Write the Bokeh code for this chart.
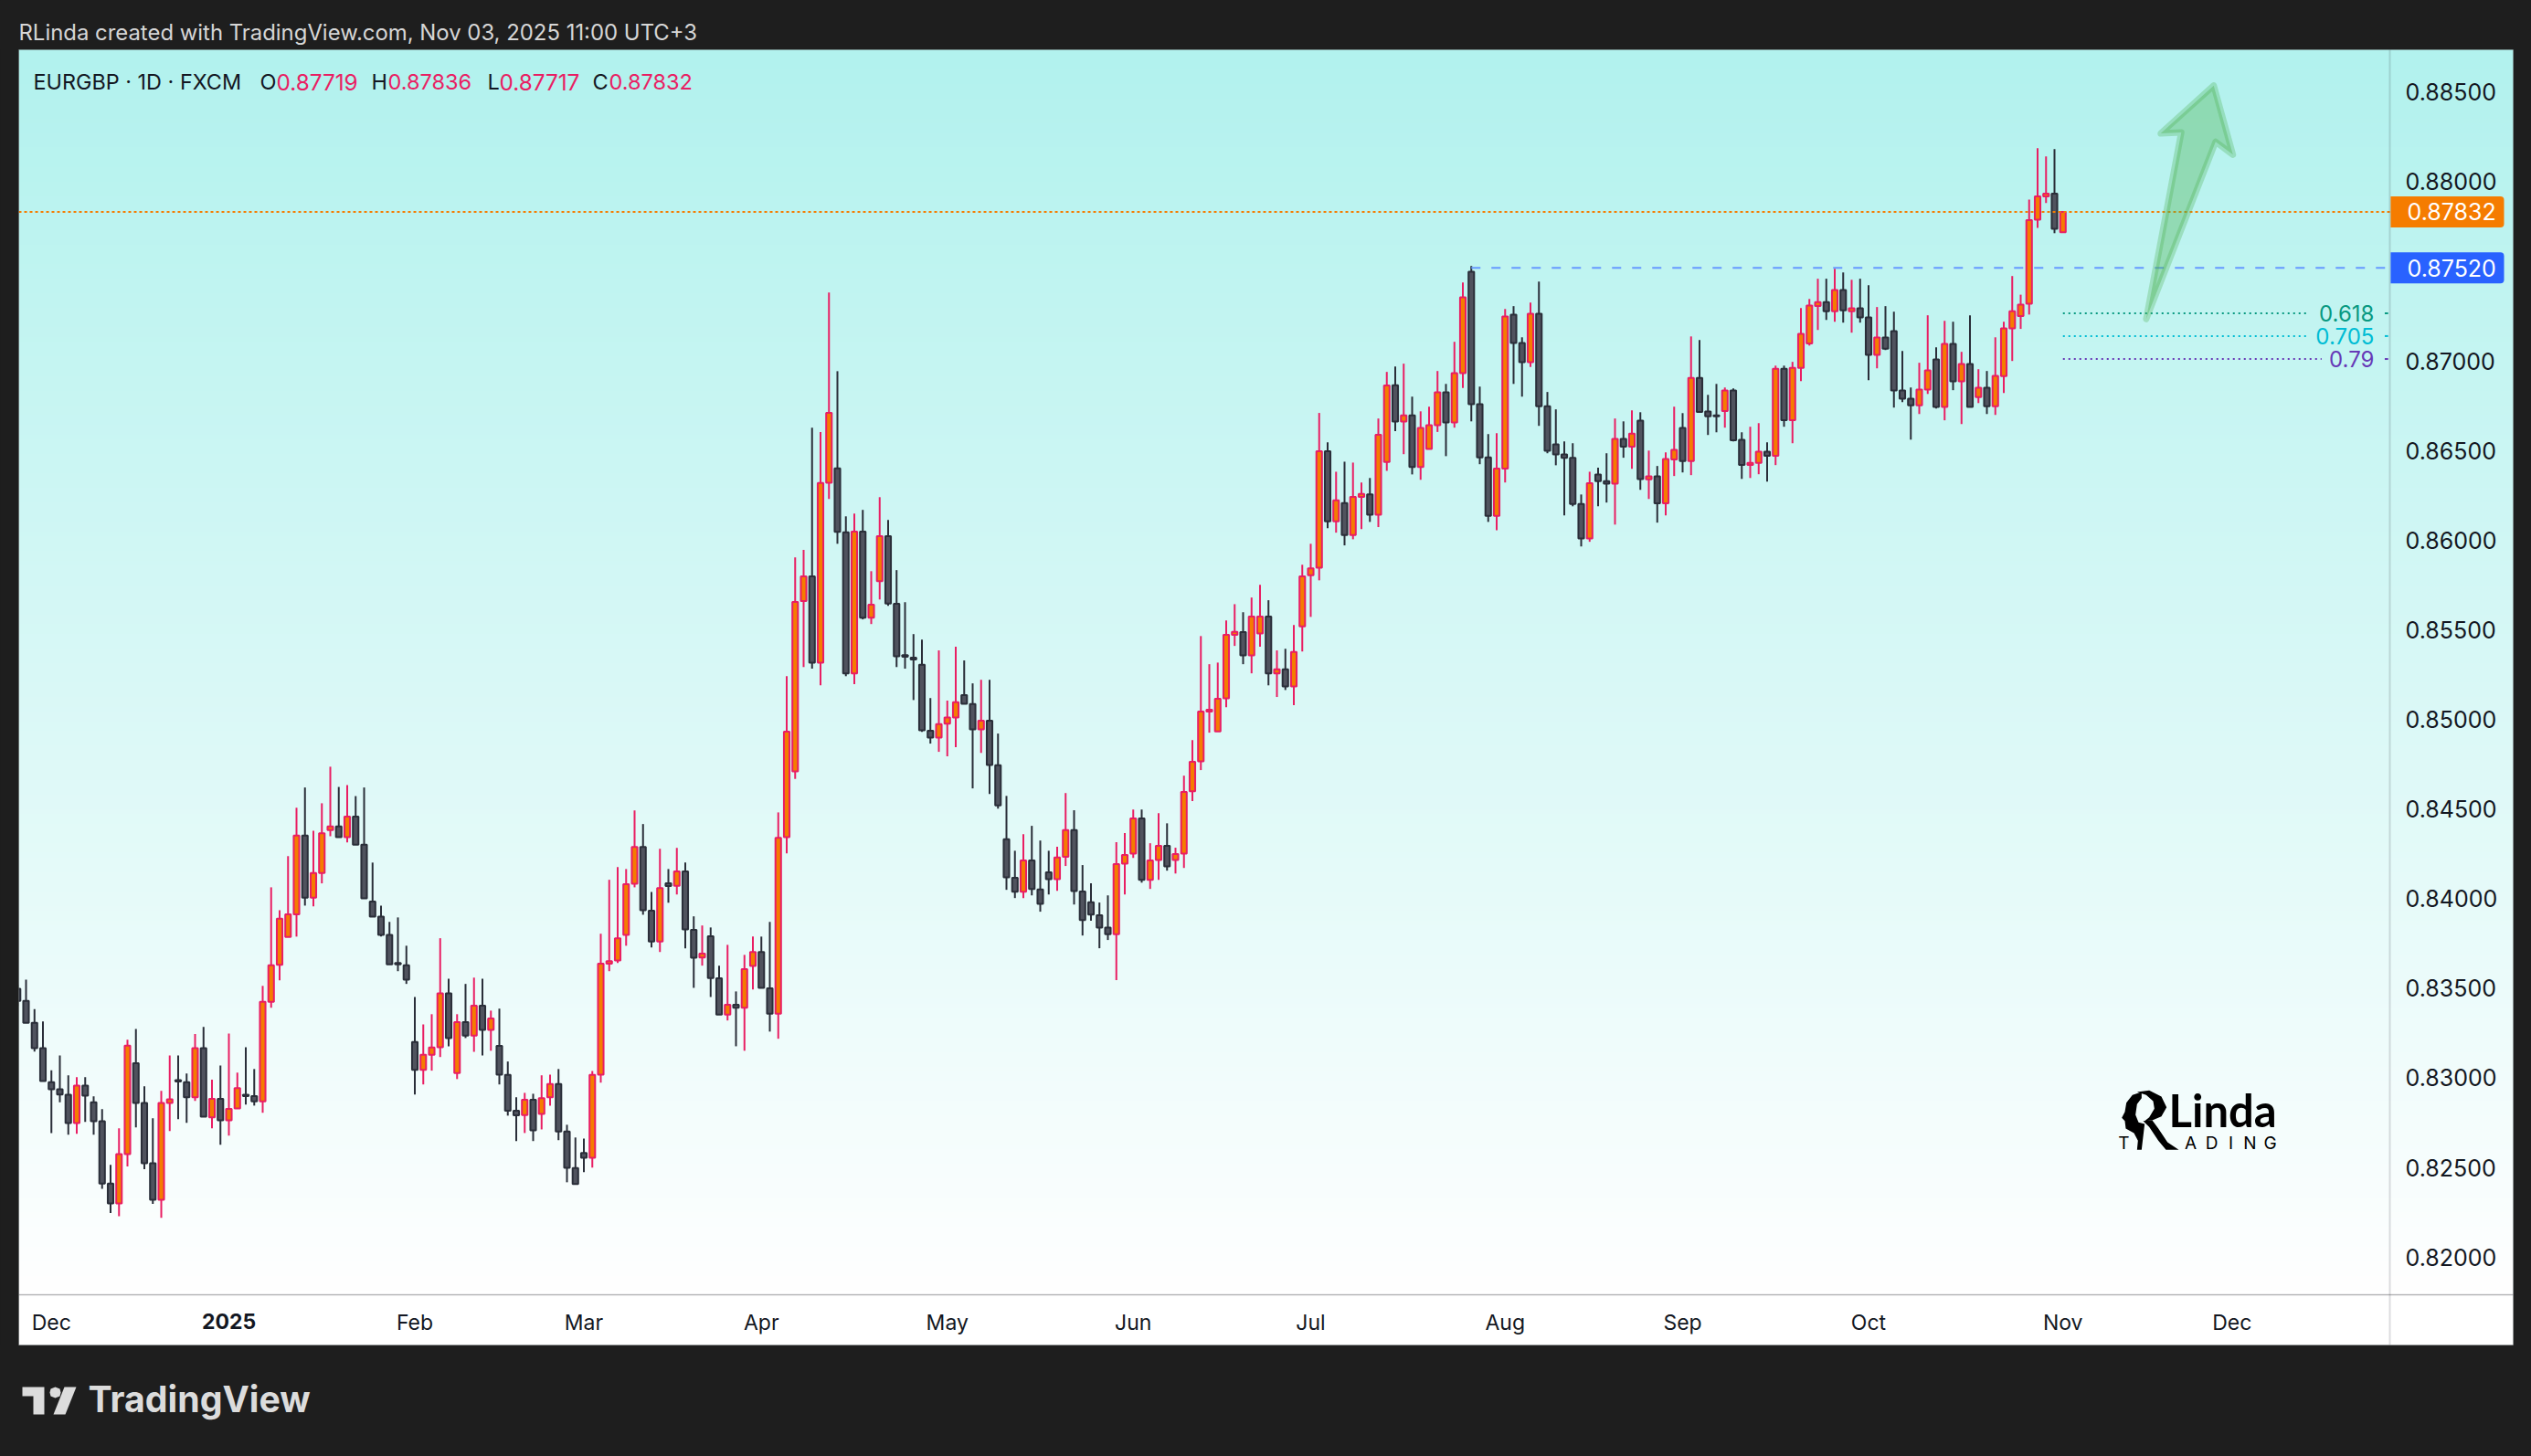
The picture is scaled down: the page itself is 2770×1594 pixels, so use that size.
from bokeh.embed import file_html
from bokeh.io import curdoc
from bokeh.models import (BoxAnnotation, CustomJS, FixedTicker, Label, LinearAxis,
                          PolyAnnotation, PrintfTickFormatter, Range1d)
from bokeh.plotting import figure
from bokeh.resources import INLINE
import numpy as np

# EURGBP daily candles, in points (1e-5)
opens = [
    83497, 83429, 83307, 83165, 82976, 82936, 82905, 82747, 82956, 82863, 82758, 82410, 82299, 82574, 83082, 82860,
    82523, 82319, 82860, 82987, 82976, 82892, 83165, 82780, 82883, 82763, 82829, 82905, 82898, 82869, 83424, 83630,
    83786, 83912, 84352, 84005, 84143, 84383, 84403, 84343, 84458, 84301, 83984, 83899, 83797, 83641, 83628, 83200,
    83044, 83129, 83171, 83471, 83027, 83311, 83236, 83402, 83267, 83178, 83016, 82816, 82792, 82878, 82798, 82891,
    82965, 82700, 82496, 82581, 82554, 83018, 83637, 83655, 83797, 84083, 84288, 83932, 83761, 84086, 84072, 84152,
    83826, 83671, 83790, 83555, 83353, 83408, 83391, 83624, 83702, 83499, 83358, 84343, 84710, 85660, 85798, 85316,
    86321, 86401, 86044, 85256, 86048, 85567, 85771, 86022, 85645, 85358, 85345, 85305, 84937, 84899, 84976, 85010,
    85136, 85086, 84944, 84993, 84744, 84331, 84116, 84038, 84213, 84051, 84147, 84109, 84233, 84382, 84040, 83980,
    83907, 83838, 83801, 84195, 84251, 84447, 84104, 84216, 84295, 84216, 84251, 84599, 84766, 85044, 84933, 85117,
    85472, 85487, 85357, 85479, 85574, 85256, 85279, 85184, 85519, 85805, 85847, 86497, 86105, 86207, 86029, 86242,
    86256, 86142, 86437, 86864, 86662, 86697, 86409, 86509, 86641, 86825, 86657, 86932, 87498, 86759, 86462, 86136,
    86400, 87258, 87100, 86993, 87263, 86748, 86534, 86478, 86460, 86202, 86009, 86366, 86330, 86315, 86565, 86522,
    86667, 86339, 86356, 86206, 86451, 86626, 86441, 86906, 86718, 86697, 86721, 86835, 86560, 86420, 86431, 86494,
    86471, 86957, 86670, 86962, 87098, 87307, 87329, 87277, 87396, 87277, 87294, 87243, 87034, 87131, 87166, 86835,
    86789, 86752, 86840, 87008, 86743, 87095, 86886, 86983, 86799, 86850, 86748, 86915, 87182, 87251, 87319, 87789,
    87918, 87934, 87719,
]
highs = [
    83520, 83548, 83384, 83315, 83042, 83125, 83014, 83004, 83004, 82896, 82825, 82514, 82718, 83213, 83273, 82953,
    82774, 82927, 83125, 83125, 83024, 83244, 83284, 82989, 83069, 83247, 83029, 83171, 83049, 83513, 84063, 83935,
    84237, 84507, 84620, 84379, 84532, 84736, 84623, 84634, 84572, 84620, 84201, 83961, 83870, 83895, 83737, 83451,
    83298, 83355, 83779, 83553, 83355, 83524, 83559, 83553, 83375, 83386, 83091, 82891, 82916, 82911, 83014, 83018,
    83049, 82738, 82667, 82661, 83038, 83804, 84105, 84176, 84165, 84492, 84416, 84037, 84278, 84165, 84283, 84201,
    83901, 83850, 83839, 83626, 83742, 83482, 83686, 83788, 83788, 83870, 84481, 85241, 85904, 85946, 86628, 86603,
    87382, 86943, 86133, 86149, 86169, 85827, 86240, 86113, 85833, 85654, 85476, 85445, 85119, 85385, 85105, 85405,
    85329, 85201, 85221, 85221, 84921, 84573, 84267, 84360, 84406, 84324, 84267, 84289, 84589, 84493, 84187, 84085,
    83978, 84018, 84315, 84366, 84497, 84497, 84309, 84477, 84420, 84284, 84686, 84884, 85465, 85308, 85317, 85552,
    85643, 85598, 85680, 85751, 85665, 85385, 85394, 85527, 85863, 85980, 86710, 86546, 86382, 86438, 86433, 86322,
    86347, 86679, 86939, 86969, 86985, 86801, 86719, 86745, 86944, 86872, 87107, 87438, 87530, 86857, 86592, 86597,
    87290, 87306, 87132, 87326, 87443, 86827, 86730, 86551, 86541, 86255, 86382, 86404, 86485, 86679, 86663, 86725,
    86714, 86500, 86414, 86490, 86745, 86709, 87137, 87117, 86811, 86872, 86852, 86847, 86602, 86633, 86653, 86546,
    86974, 86974, 86995, 87295, 87346, 87459, 87459, 87515, 87494, 87453, 87459, 87423, 87301, 87306, 87275, 87056,
    86852, 86990, 87255, 87076, 87224, 87219, 87051, 87255, 86954, 86944, 87132, 87219, 87474, 87370, 87900, 88187,
    88141, 88182, 87836,
]
lows = [
    83400, 83307, 83147, 82982, 82692, 82863, 82683, 82687, 82754, 82683, 82381, 82245, 82228, 82505, 82723, 82490,
    82296, 82219, 82703, 82769, 82749, 82871, 82783, 82718, 82627, 82678, 82829, 82851, 82845, 82805, 83391, 83544,
    83786, 83788, 83961, 83957, 84085, 84348, 84343, 84314, 84301, 84001, 83899, 83788, 83633, 83595, 83524, 82907,
    82963, 83040, 83116, 83176, 82993, 83222, 83145, 83125, 83151, 82963, 82789, 82647, 82692, 82647, 82712, 82845,
    82652, 82417, 82407, 82474, 82499, 82973, 83595, 83641, 83737, 84063, 83910, 83728, 83702, 83977, 84023, 83722,
    83502, 83626, 83451, 83353, 83320, 83176, 83151, 83493, 83502, 83258, 83218, 84252, 84668, 85292, 85283, 85190,
    86230, 85980, 85241, 85196, 85558, 85532, 85669, 85634, 85292, 85283, 85108, 84930, 84865, 84819, 84794, 84845,
    85087, 84615, 84813, 84584, 84502, 84049, 84003, 84003, 84018, 83927, 84023, 84043, 84182, 83967, 83794, 83876,
    83723, 83769, 83545, 84023, 84227, 84089, 84054, 84105, 84156, 84140, 84171, 84544, 84717, 84926, 84933, 85068,
    85410, 85308, 85257, 85405, 85190, 85125, 85164, 85079, 85379, 85572, 85776, 86067, 86042, 85971, 86005, 86062,
    86102, 86073, 86387, 86609, 86480, 86367, 86337, 86509, 86604, 86469, 86628, 86849, 86663, 86424, 86102, 86056,
    86322, 86872, 86801, 86966, 86638, 86485, 86418, 86138, 86189, 85965, 85991, 86189, 86210, 86087, 86460, 86398,
    86281, 86230, 86098, 86138, 86358, 86378, 86363, 86716, 86587, 86602, 86628, 86551, 86342, 86347, 86368, 86327,
    86419, 86633, 86541, 86888, 87086, 87173, 87229, 87219, 87214, 87158, 87214, 86893, 86959, 87061, 86740, 86770,
    86561, 86704, 86816, 86735, 86669, 86837, 86648, 86743, 86765, 86704, 86699, 86821, 87000, 87179, 87259, 87743,
    87881, 87713, 87717,
]
closes = [
    83429, 83307, 83165, 82982, 82936, 82907, 82747, 82956, 82900, 82758, 82410, 82299, 82574, 83180, 82860, 82523,
    82319, 82860, 82880, 82980, 82892, 83165, 82783, 82883, 82763, 82827, 82943, 82898, 82869, 83424, 83628, 83888,
    83912, 84352, 84005, 84143, 84365, 84403, 84343, 84458, 84301, 84001, 83899, 83797, 83633, 83633, 83548, 83044,
    83129, 83169, 83471, 83222, 83311, 83236, 83402, 83267, 83331, 83018, 82816, 82791, 82878, 82707, 82887, 82965,
    82701, 82498, 82407, 82554, 83016, 83637, 83651, 83779, 84081, 84288, 83935, 83761, 84059, 84070, 84152, 83828,
    83670, 83693, 83557, 83353, 83408, 83391, 83606, 83702, 83502, 83358, 84339, 84932, 85656, 85798, 85316, 86319,
    86710, 86046, 85256, 86048, 85567, 85640, 86022, 85647, 85352, 85350, 85334, 84939, 84899, 84974, 85010, 85096,
    85087, 84944, 84993, 84746, 84520, 84118, 84038, 84213, 84053, 83971, 84109, 84229, 84382, 84042, 83880, 83911,
    83838, 83801, 84193, 84244, 84447, 84104, 84213, 84295, 84180, 84249, 84595, 84764, 85044, 85054, 85115, 85472,
    85489, 85357, 85574, 85574, 85256, 85279, 85184, 85376, 85798, 85843, 86497, 86105, 86222, 86029, 86242, 86258,
    86142, 86588, 86863, 86662, 86697, 86409, 86626, 86641, 86825, 86657, 86932, 87355, 86759, 86462, 86136, 86400,
    87248, 87100, 86993, 87263, 86748, 86499, 86478, 86460, 86202, 86009, 86318, 86329, 86315, 86565, 86522, 86594,
    86341, 86356, 86206, 86453, 86504, 86441, 86906, 86716, 86691, 86691, 86835, 86558, 86420, 86432, 86494, 86471,
    86957, 86670, 86962, 87151, 87309, 87329, 87277, 87396, 87282, 87294, 87243, 87034, 87131, 87068, 86835, 86789,
    86752, 86840, 86947, 86743, 87095, 86886, 86983, 86743, 86850, 86748, 86917, 87182, 87278, 87315, 87786, 87918,
    87934, 87737, 87832,
]

# time axis: candle position of each month label
month_ticks = [4, 47, 67, 88, 110, 132, 153, 176, 197, 219, 242, 262]
month_labels = ["Dec", "Feb", "Mar", "Apr", "May", "Jun", "Jul", "Aug", "Sep", "Oct", "Nov", "Dec"]
year_tick = 25
price_ticks = [0.82, 0.825, 0.83, 0.835, 0.84, 0.845, 0.85, 0.855, 0.86, 0.865, 0.87, 0.875, 0.88, 0.885]

last_price = 0.87832
level_price = 0.8752
fib_levels = [0.87266, 0.87139, 0.87011]
fib_names = ["0.618", "0.705", "0.79"]
fib_colors = ["#089981", "#00bcd4", "#673ab7"]
# x where each fib line breaks for its label, candle positions
fib_breaks = [271, 271, 272.6]
arrow_x = [251.85, 256.0, 253.57, 259.84, 262.11, 260.06]
arrow_y = [0.87234, 0.88275, 0.88270, 0.88537, 0.88151, 0.88223]

# page and pane geometry, in picture pixels. The frame fills the figure so that
# header and footer texts can sit in it too
WIDTH, HEIGHT = 2754, 1578
LEFT, RIGHT, TOP, BOTTOM, TIME_TOP = 20, 2750, 54, 1472, 1417
STEP = 9.25
PRICE_PER_PX = 5.097e-5
FONT = "Inter"


def px_x(x):
    return (x - 18.75) / STEP


def px_y(y):
    return 0.885 - (y - 100.4) * PRICE_PER_PX


p = figure(
    width=WIDTH,
    height=HEIGHT,
    x_range=Range1d(px_x(0), px_x(WIDTH)),
    y_range=Range1d(px_y(HEIGHT), px_y(0)),
    x_axis_type=None,
    y_axis_type=None,
    toolbar_location=None,
    output_backend="svg",
    min_border=0,
    border_fill_color="#1e1e1e",
    background_fill_color="#1e1e1e",
    outline_line_color=None,
)
p.grid.visible = False

# background gradient of the pane, white under the time scale
rows = 256
t = np.linspace(0, 1, rows)[:, None]
grad = np.zeros((rows, 1, 4), dtype=np.uint8)
grad[..., 0] = (255 - 77 * t).astype(np.uint8)
grad[..., 1] = (255 - 13 * t).astype(np.uint8)
grad[..., 2] = (255 - 17 * t).astype(np.uint8)
grad[..., 3] = 255
p.quad(left=px_x(LEFT), right=px_x(RIGHT), top=px_y(TIME_TOP), bottom=px_y(BOTTOM), fill_color="#ffffff", line_color=None)
p.image_rgba(image=[grad.view(np.uint32).reshape(rows, 1)], x=px_x(LEFT), y=px_y(TIME_TOP),
             dw=px_x(RIGHT) - px_x(LEFT), dh=px_y(TOP) - px_y(TIME_TOP))

# axes sit inside the pane, as on the chart
axis_x = px_x(2615)
time_y = px_y(TIME_TOP)
y_axis = LinearAxis(
    fixed_location=axis_x,
    bounds=(px_y(BOTTOM), px_y(TOP)),
    ticker=FixedTicker(ticks=price_ticks),
    formatter=PrintfTickFormatter(format="%.5f"),
    major_label_text_font=FONT,
    major_label_text_font_size="25px",
    major_label_text_color="#131722",
    major_label_standoff=11,
    major_tick_line_color=None,
    minor_tick_line_color=None,
    axis_line_color="#2a2e39",
    axis_line_alpha=0.16,
    axis_line_width=2,
)
p.add_layout(y_axis, "right")

x_axis = LinearAxis(
    fixed_location=time_y,
    bounds=(px_x(LEFT), px_x(RIGHT)),
    ticker=FixedTicker(ticks=month_ticks),
    major_label_overrides=dict(zip(month_ticks, month_labels)),
    major_label_text_font=FONT,
    major_label_text_font_size="23px",
    major_label_text_color="#131722",
    major_label_standoff=10,
    major_tick_line_color=None,
    minor_tick_line_color=None,
    axis_line_color="#2a2e39",
    axis_line_alpha=0.14,
    axis_line_width=2,
)
p.add_layout(x_axis, "below")

year_axis = LinearAxis(
    fixed_location=time_y,
    ticker=FixedTicker(ticks=[year_tick]),
    major_label_overrides={year_tick: "2025"},
    major_label_text_font=FONT,
    major_label_text_font_size="23px",
    major_label_text_font_style="bold",
    major_label_text_color="#131722",
    major_label_standoff=14,
    major_tick_line_color=None,
    minor_tick_line_color=None,
    axis_line_color=None,
)
p.add_layout(year_axis, "below")

# candles
x = list(range(len(closes)))
o = [v / 1e5 for v in opens]
h = [v / 1e5 for v in highs]
l = [v / 1e5 for v in lows]
c = [v / 1e5 for v in closes]
up = [cv >= ov for ov, cv in zip(o, c)]
wick_colors = ["#e91e63" if u else "#2a2e39" for u in up]
fill_colors = ["#f57c00" if u else "#50535e" for u in up]
p.segment(x, h, x, l, line_color=wick_colors, line_width=2)
p.vbar(
    x=x,
    width=0.66,
    top=[max(a, b) for a, b in zip(o, c)],
    bottom=[min(a, b) for a, b in zip(o, c)],
    fill_color=fill_colors,
    line_color=wick_colors,
    line_width=2,
)

# the first candle is cut by the left edge of the pane
p.add_layout(BoxAnnotation(left=px_x(0), right=px_x(LEFT), top=px_y(TOP), bottom=px_y(BOTTOM),
                           fill_color="#1e1e1e", fill_alpha=1, line_color=None))
p.add_layout(BoxAnnotation(left=px_x(LEFT), right=px_x(RIGHT), top=px_y(TOP), bottom=px_y(BOTTOM),
                           fill_color=None, line_color="#9aa5a5", line_width=1))

# last price and breakout level lines
p.line([px_x(LEFT), axis_x], [last_price, last_price], line_color="#f57c00", line_width=2, line_dash="3 3")
p.line([172, axis_x], [level_price, level_price], line_color="#6699ff", line_width=2, line_dash="10 12")

# fib retracement levels, broken where their label sits
for level, name, color, brk in zip(fib_levels, fib_names, fib_colors, fib_breaks):
    p.line([242, brk], [level, level], line_color=color, line_width=2, line_dash="2 4")
    p.line([axis_x - 0.6, axis_x - 0.2], [level, level], line_color=color, line_width=2)
    p.add_layout(Label(x=axis_x - 1.85, y=level, text=name, text_align="right", text_baseline="middle",
                       text_font=FONT, text_font_size="24px", text_color=color))

# projected move
p.patch(arrow_x, arrow_y, fill_color="#4caf50", fill_alpha=0.37, line_color="#4caf50", line_alpha=0.3,
        line_width=7, line_join="round")

# price tags on the scale
for price, tag_color in [(last_price, "#f57c00"), (level_price, "#2962ff")]:
    off = 17 * PRICE_PER_PX
    p.add_layout(BoxAnnotation(left=axis_x + 0.1, right=px_x(2740), top=price + off, bottom=price - off,
                               fill_color=tag_color, fill_alpha=1, line_color=None, border_radius=(0, 4, 4, 0)))
    p.add_layout(Label(x=px_x(2634), y=price, text=f"{price:.5f}", text_baseline="middle", text_font=FONT,
                       text_font_size="25px", text_color="#ffffff"))

# symbol legend
legend_parts = [
    (36, "EURGBP · 1D · FXCM", "#131722", "23.4px"),
    (284, "O", "#131722", "23.5px"),
    (302, "0.87719", "#e91e63", "24.3px"),
    (406, "H", "#131722", "23.5px"),
    (424, "0.87836", "#e91e63", "23.5px"),
    (533, "L", "#131722", "23.5px"),
    (546, "0.87717", "#e91e63", "24.3px"),
    (648, "C", "#131722", "23.5px"),
    (666, "0.87832", "#e91e63", "23.5px"),
]
for px, text, color, size in legend_parts:
    p.add_layout(Label(x=px_x(px), y=px_y(89), text=text, text_baseline="middle", text_font=FONT,
                       text_font_size=size, text_color=color))

# header and footer
p.add_layout(Label(x=px_x(20), y=px_y(35), text="RLinda created with TradingView.com, Nov 03, 2025 11:00 UTC+3",
                   text_baseline="middle", text_font=FONT, text_font_size="23.9px", text_color="#d6d6d6"))
p.add_layout(Label(x=px_x(96), y=px_y(1531), text="TradingView", text_baseline="middle", text_font=FONT,
                   text_font_size="39.3px", text_font_style="bold", text_color="#dcdcdc"))
tv_logo = [
    [(24, 1518), (48, 1518), (48, 1548), (36, 1548), (36, 1528), (24, 1528)],
    [(70, 1518), (83, 1518), (71, 1548), (58, 1548)],
    [(60, 1518), (65, 1520), (66, 1524), (65, 1528), (60, 1530), (55, 1528), (54, 1524), (55, 1520)],
]
for shape in tv_logo:
    p.add_layout(PolyAnnotation(xs=[px_x(a) for a, _ in shape], ys=[px_y(b) for _, b in shape],
                                fill_color="#dcdcdc", fill_alpha=1, line_color=None))

# author watermark
wm_x, wm_y = 2280, 1170
wm_shapes = [
    [(190, 75), (160, 85), (140, 110), (135, 140), (125, 160), (135, 170), (138, 195), (165, 210), (178, 235),
     (175, 265), (190, 265), (200, 180), (180, 175), (170, 150), (175, 115), (190, 95)],
    [(175, 75), (215, 70), (255, 90), (272, 125), (255, 155), (225, 168), (200, 170), (215, 158), (232, 130),
     (228, 105), (205, 85)],
    [(195, 170), (225, 168), (245, 195), (275, 240), (312, 265), (270, 265), (245, 235), (215, 190)],
]
for shape in wm_shapes:
    p.add_layout(PolyAnnotation(xs=[px_x(wm_x + a / 3) for a, _ in shape], ys=[px_y(wm_y + b / 3) for _, b in shape],
                                fill_color="#000000", fill_alpha=1, line_color=None))
p.add_layout(Label(x=px_x(2373), y=px_y(1214), text="Linda", text_baseline="middle",
                   text_font="Lato", text_font_size="49px", text_font_style="bold", text_color="#000000"))
for px, letter in [(2324, "T"), (2397, "A"), (2420, "D"), (2441, "I"), (2462, "N"), (2484, "G")]:
    p.add_layout(Label(x=px_x(px), y=px_y(1251), text=letter, text_align="center", text_baseline="middle",
                       text_font=FONT, text_font_size="19px", text_color="#000000"))

curdoc().add_root(p)
curdoc().js_on_event("document_ready", CustomJS(code="document.body.style.background = '#1e1e1e'"))

open("out.html", "w").write(file_html(p, INLINE))
